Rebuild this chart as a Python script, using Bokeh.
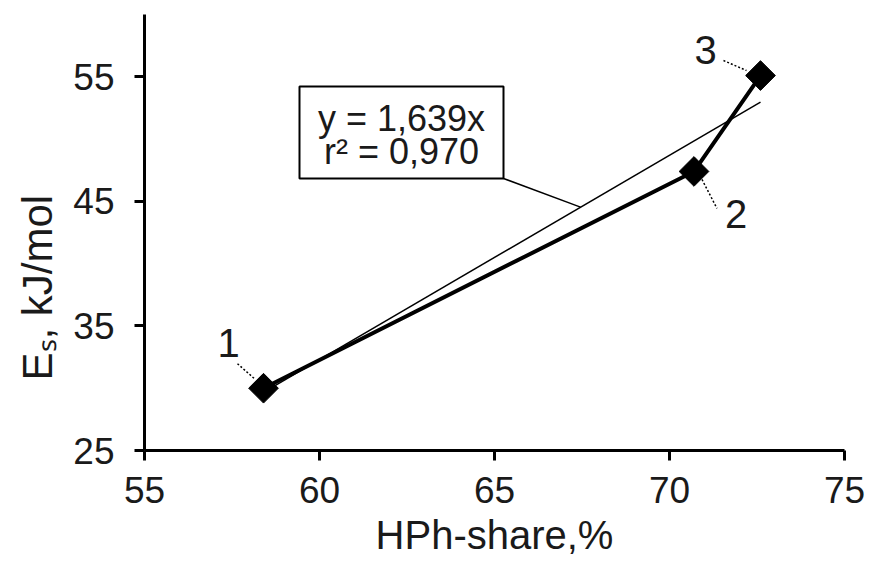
import numpy as np
from bokeh.plotting import figure
from bokeh.models import Label, BoxAnnotation, Range1d, FixedTicker, Title
from bokeh.embed import file_html
from bokeh.resources import INLINE

# ---- data ----
hph_share = [58.4, 70.7, 72.6]          # HPh-share, %
es_kj_mol = [30.0, 47.4, 55.1]          # Es, kJ/mol
point_labels = ["1", "2", "3"]
x_ticks = [55, 60, 65, 70, 75]
y_ticks = [25, 35, 45, 55]
x_title = "HPh-share,%"
y_title = "Eₛ, kJ/mol"
eq_lines = ["y = 1,639x", "r² = 0,970"]

# ---- layout ----
X0, X1, Y0, Y1 = 55, 75, 25, 60
W, H = 865, 559
BL, BR, BT, BB = 144, 21, 14, 109
FW = W - BL - BR
FH = H - BT - BB
PXX = FW / (X1 - X0)
PXY = FH / (Y1 - Y0)
FONT = "Liberation Sans"
TXT = "#1a1a1a"


def dx(px):
    return X0 + (px - BL) / PXX


def dy(py):
    return Y0 + (BT + FH - py) / PXY


p = figure(width=W, height=H, x_range=Range1d(X0, X1), y_range=Range1d(Y0, Y1),
           output_backend="svg", toolbar_location=None,
           min_border_left=BL, min_border_right=BR, min_border_top=BT, min_border_bottom=BB)
p.outline_line_color = None
p.xgrid.visible = False
p.ygrid.visible = False
p.background_fill_color = "white"
p.border_fill_color = "white"

p.xaxis.ticker = FixedTicker(ticks=x_ticks)
p.yaxis.ticker = FixedTicker(ticks=y_ticks)
for ax in (p.xaxis[0], p.yaxis[0]):
    ax.axis_line_width = 3
    ax.axis_line_color = "black"
    ax.major_tick_line_width = 3
    ax.major_tick_line_color = "black"
    ax.major_tick_out = 10
    ax.major_tick_in = 0
    ax.minor_tick_line_color = None
    ax.major_label_text_font = FONT
    ax.major_label_text_font_size = "37px"
    ax.major_label_text_color = TXT
p.xaxis.major_label_standoff = 16
p.yaxis.major_label_standoff = 20
p.xaxis.axis_label = x_title
p.xaxis.axis_label_text_font = FONT
p.xaxis.axis_label_text_font_size = "40px"
p.xaxis.axis_label_text_font_style = "normal"
p.xaxis.axis_label_text_color = TXT
p.xaxis.axis_label_standoff = 7

# y title as a side-panel title so it can be shifted along the axis
p.add_layout(Title(text=y_title, align="left", offset=70, standoff=20,
                   text_font=FONT, text_font_size="42px", text_font_style="normal",
                   text_color=TXT), "left")

# ---- trend line (least squares of the data) ----
coef = np.polyfit(hph_share, es_kj_mol, 1)
xt = np.array([min(hph_share), max(hph_share)])
p.line(xt, np.polyval(coef, xt), line_color="black", line_width=1.5)

# ---- data series ----
p.line(hph_share, es_kj_mol, line_color="black", line_width=4)
p.scatter(hph_share, es_kj_mol, marker="square", angle=np.pi / 4, size=21,
          fill_color="black", line_color="black")

# ---- point labels with leader lines (offsets in screen px, right/up positive) ----
label_off = [(-35, 45), (42, -43), (-55, 26)]
leader_off = [((-26, 24.5), (-9, 9.5)), ((8, -8), (23, -37)), ((-37, 15), (-14, 5))]
x0s, y0s, x1s, y1s = [], [], [], []
for xv, yv, lab, (ox, oy), ((ax0, ay0), (ax1, ay1)) in zip(hph_share, es_kj_mol, point_labels, label_off, leader_off):
    p.add_layout(Label(x=xv + ox / PXX, y=yv + oy / PXY, text=lab, text_align="center",
                       text_baseline="middle", text_font=FONT, text_font_size="40px",
                       text_color=TXT))
    x0s.append(xv + ax0 / PXX); y0s.append(yv + ay0 / PXY)
    x1s.append(xv + ax1 / PXX); y1s.append(yv + ay1 / PXY)
p.segment(x0s, y0s, x1s, y1s, line_color="black", line_width=1.5, line_dash="2 2")

# ---- equation box ----
bx_l, bx_r, bx_t, bx_b = dx(299), dx(503), dy(86), dy(178)
p.add_layout(BoxAnnotation(left=bx_l, right=bx_r, top=bx_t, bottom=bx_b,
                           fill_color="white", fill_alpha=1.0,
                           line_color="black", line_width=2, line_alpha=1.0))
for txt, py in zip(eq_lines, [117.5, 151]):
    p.add_layout(Label(x=(bx_l + bx_r) / 2, y=dy(py), text=txt, text_align="center",
                       text_baseline="middle", text_font=FONT, text_font_size="36px",
                       text_color=TXT))
lead_x = dx(580)
p.segment([bx_r], [bx_b], [lead_x], [float(np.polyval(coef, lead_x))],
          line_color="black", line_width=1.5)

open("out.html", "w").write(file_html(p, INLINE))
